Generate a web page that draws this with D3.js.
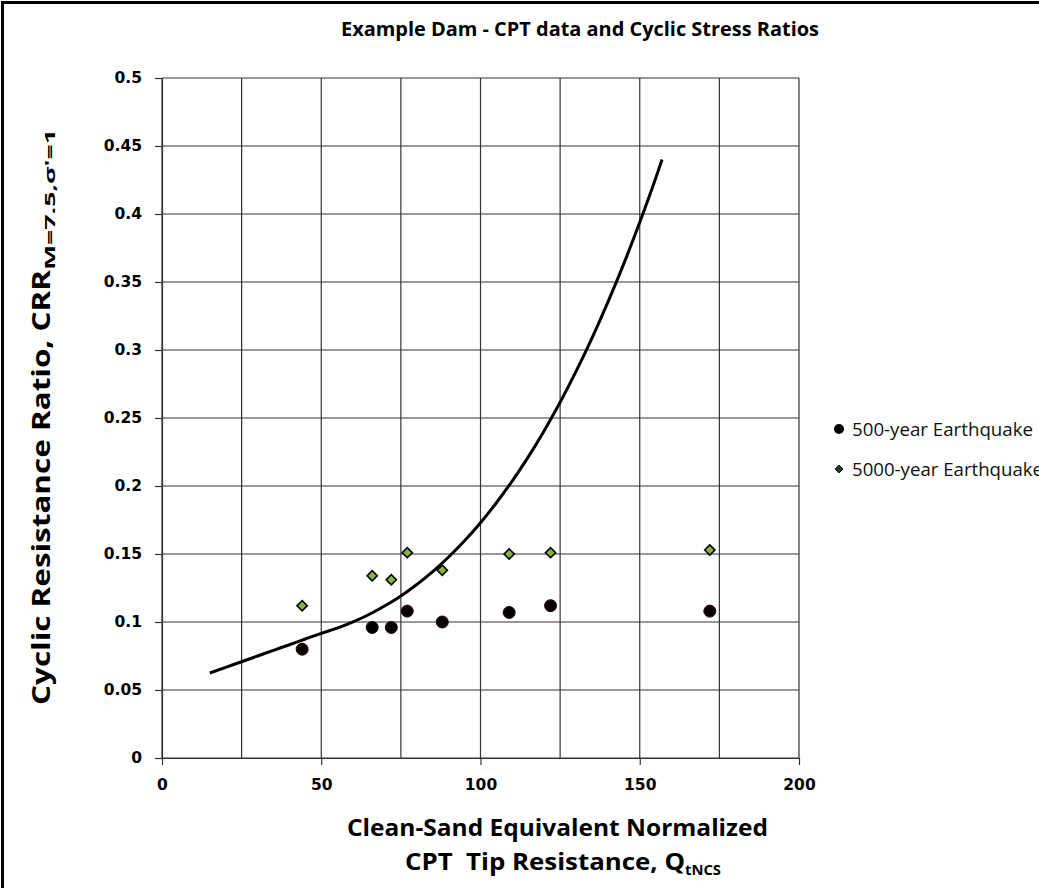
<!DOCTYPE html>
<html><head><meta charset="utf-8">
<script src="https://cdn.jsdelivr.net/npm/d3@7"></script>
<style>body{margin:0;background:#fff;overflow:hidden}</style>
</head><body>
<svg id="c" width="1039" height="888"></svg>
<script>
const titleText = "Example Dam - CPT data and Cyclic Stress Ratios";
const xTicks = [0, 50, 100, 150, 200];
const yTicks = [0, 0.05, 0.1, 0.15, 0.2, 0.25, 0.3, 0.35, 0.4, 0.45, 0.5];
const xGrid = [0, 25, 50, 75, 100, 125, 150, 175, 200];
// CRR curve
const qCurve   = [15, 20, 25, 30, 35, 40, 45, 50, 55, 60, 65, 70, 75, 80, 85, 90, 95, 100, 105, 110, 115, 120, 125, 130, 135, 140, 145, 150, 155, 157];
const crrCurve = [0.0625, 0.0667, 0.0708, 0.075, 0.0792, 0.0833, 0.0875, 0.0916, 0.0955, 0.1001, 0.1055, 0.1119, 0.1192, 0.1276, 0.1371, 0.1478, 0.1597, 0.173, 0.1877, 0.2038, 0.2214, 0.2407, 0.2616, 0.2843, 0.3088, 0.3352, 0.3635, 0.3939, 0.4263, 0.44];
// 500-year Earthquake
const q500   = [44, 66, 72, 77, 88, 109, 122, 172];
const crr500 = [0.080, 0.096, 0.096, 0.108, 0.100, 0.107, 0.112, 0.108];
// 5000-year Earthquake
const q5000   = [44, 66, 72, 77, 88, 109, 122, 172];
const crr5000 = [0.112, 0.134, 0.131, 0.151, 0.138, 0.150, 0.151, 0.153];
const seriesNames = ["500-year Earthquake", "5000-year Earthquake"];

const svg = d3.select("#c");
const narrow = "'Liberation Sans Narrow','Open Sans',sans-serif";
const x = d3.scaleLinear().domain([0, 200]).range([162, 799]);
const y = d3.scaleLinear().domain([0, 0.5]).range([758, 78]);

svg.append("rect").attr("x", 0).attr("y", 0).attr("width", 1039).attr("height", 888).attr("fill", "#fff");
svg.append("rect").attr("x", 2.5).attr("y", 2.5).attr("width", 1100).attr("height", 1000)
  .attr("fill", "none").attr("stroke", "#000").attr("stroke-width", 3);

// title
svg.append("text").attr("x", 341).attr("y", 36)
  .attr("font-family", narrow).attr("font-weight", "bold").attr("font-size", 19)
  .attr("textLength", 478).attr("lengthAdjust", "spacingAndGlyphs").text(titleText);

// grid
const grid = svg.append("g").attr("stroke", "#333").attr("stroke-width", 1.2);
grid.selectAll("line.v").data(xGrid).join("line").attr("class", "v")
  .attr("x1", d => x(d)).attr("x2", d => x(d)).attr("y1", y(0)).attr("y2", y(0.5));
grid.selectAll("line.h").data(yTicks).join("line").attr("class", "h")
  .attr("y1", d => y(d)).attr("y2", d => y(d)).attr("x1", x(0)).attr("x2", x(200));

// axes
const ya = svg.append("g").attr("transform", `translate(${x(0)},0)`)
  .call(d3.axisLeft(y).tickValues(yTicks).tickSize(7).tickSizeOuter(0).tickPadding(13).tickFormat(d => String(d)));
const xa = svg.append("g").attr("transform", `translate(0,${y(0)})`)
  .call(d3.axisBottom(x).tickValues(xTicks).tickSize(7).tickSizeOuter(0).tickPadding(14).tickFormat(d => String(d)));
[ya, xa].forEach(a => {
  a.attr("font-size", null).attr("font-family", null);
  a.selectAll("path,line").attr("stroke", "#333").attr("stroke-width", 1.2);
  a.selectAll("text").style("font-family", "'DejaVu Sans',sans-serif").style("font-weight", "bold")
    .style("font-size", "15.5px").attr("fill", "#000");
});

// curve
const line = d3.line().x(d => x(d[0])).y(d => y(d[1])).curve(d3.curveMonotoneX);
svg.append("path").datum(qCurve.map((q, i) => [q, crrCurve[i]]))
  .attr("d", line).attr("fill", "none").attr("stroke", "#000").attr("stroke-width", 3);

// markers
svg.append("g").selectAll("circle").data(q500.map((q, i) => [q, crr500[i]])).join("circle")
  .attr("cx", d => x(d[0])).attr("cy", d => y(d[1])).attr("r", 6)
  .attr("fill", "#000").attr("stroke", "#300").attr("stroke-width", 1);
const diamond = d3.symbol().type(d3.symbolSquare).size(52);
svg.append("g").selectAll("path").data(q5000.map((q, i) => [q, crr5000[i]])).join("path")
  .attr("d", diamond).attr("transform", d => `translate(${x(d[0])},${y(d[1])}) rotate(45)`)
  .attr("fill", "#8db33f").attr("stroke", "#000").attr("stroke-width", 1.6);

// axis titles
svg.append("text").attr("x", 347).attr("y", 836).attr("font-family", narrow).attr("font-weight", "bold")
  .attr("font-size", 24).attr("textLength", 421).attr("lengthAdjust", "spacingAndGlyphs")
  .text("Clean-Sand Equivalent Normalized");
const xt2 = svg.append("text").attr("x", 405).attr("y", 870).attr("font-family", narrow)
  .attr("font-weight", "bold").attr("font-size", 24);
xt2.append("tspan").attr("textLength", 280).attr("lengthAdjust", "spacingAndGlyphs")
  .text("CPT\u00a0\u00a0Tip Resistance, Q");
xt2.append("tspan").attr("font-size", 15).attr("dy", 5).attr("textLength", 36).attr("lengthAdjust", "spacingAndGlyphs").text("tNCS");

const yt = svg.append("text").attr("transform", "translate(50,705) rotate(-90)")
  .attr("font-family", narrow).attr("font-weight", "bold").attr("font-size", 25);
yt.append("tspan").attr("x", 0).attr("y", 0).attr("textLength", 435).attr("lengthAdjust", "spacingAndGlyphs")
  .text("Cyclic Resistance Ratio, CRR");
yt.append("tspan").attr("font-size", 15).attr("dy", 5).attr("textLength", 141).attr("lengthAdjust", "spacingAndGlyphs")
  .text("M=7.5,σ'=1");

// legend
const lg = svg.append("g");
lg.append("circle").attr("cx", 839).attr("cy", 429).attr("r", 5).attr("fill", "#000");
lg.append("path").attr("d", d3.symbol().type(d3.symbolSquare).size(32))
  .attr("transform", "translate(839,469) rotate(45)").attr("fill", "#1d3d1d").attr("stroke", "#000").attr("stroke-width", 0.8);
const lgW = [181, 191];
seriesNames.forEach((n, i) => {
  lg.append("text").attr("x", 852).attr("y", 436 + i * 40).attr("font-family", "'Open Sans',sans-serif")
    .attr("font-size", 18).attr("fill", "#111").attr("textLength", lgW[i]).attr("lengthAdjust", "spacingAndGlyphs").text(n);
});
</script>
</body></html>
